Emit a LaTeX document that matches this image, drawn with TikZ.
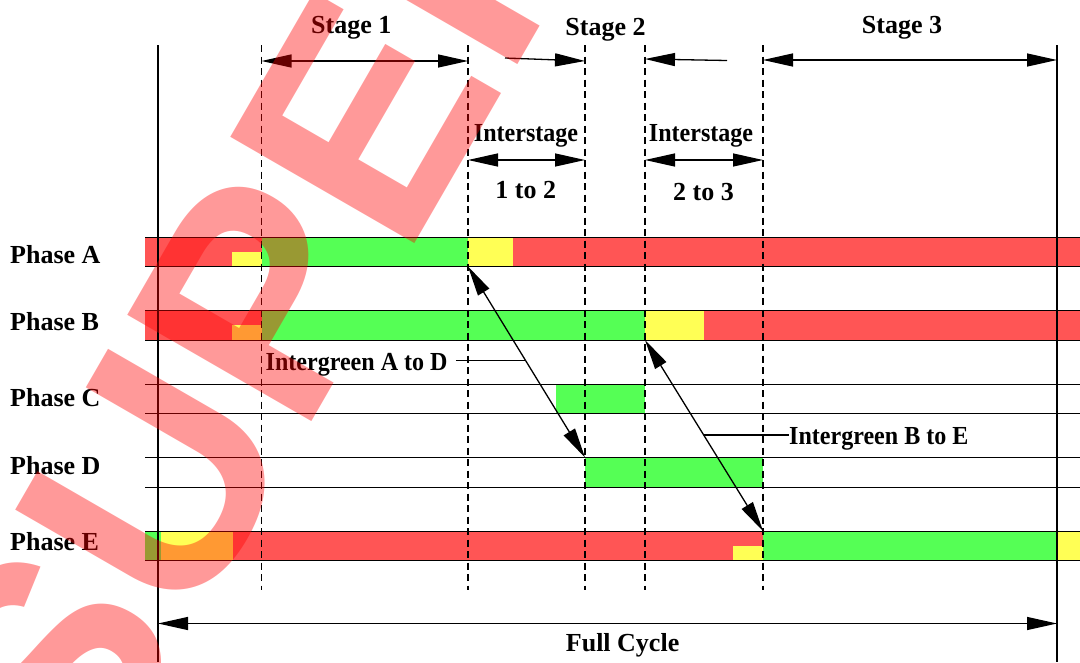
\documentclass[tikz,border=0pt]{standalone}
\usepackage{fontspec}
\usepackage{graphicx}
\setmainfont{Liberation Serif}
\newfontfamily\wmfont{Liberation Sans}
\usetikzlibrary{arrows.meta}
\definecolor{sred}{HTML}{FF5555}
\definecolor{sgreen}{HTML}{55FF55}
\definecolor{syellow}{HTML}{FFFF55}
\newcommand{\narrow}[1]{\scalebox{0.925}[1]{#1}}
\begin{document}
\begin{tikzpicture}[x=1pt,y=-1pt,
  lbl/.style={font=\fontsize{26}{28}\selectfont\bfseries, inner sep=0pt},
  rowline/.style={line width=1pt, black},
  solidv/.style={line width=1.3pt, black},
  dashv/.style={line width=1.2pt, black, dash pattern=on 7pt off 4.5pt},
  tip/.tip={Triangle[length=30pt,width=13pt]},
  dim/.style={line width=1.3pt, tip-tip},
  halfdim/.style={line width=1.3pt, -tip},
  leader/.style={line width=1.3pt}]
\useasboundingbox (0,0) rectangle (1080,662);
\fill[white] (0,0) rectangle (1080,662);

% ---- Phase A (237..266.5)
\fill[sred] (145,237) rectangle (261.5,266.5);
\fill[syellow] (232,252) rectangle (261.5,266.5);
\fill[sgreen] (261.5,237) rectangle (468,266.5);
\fill[syellow] (468,237) rectangle (513,266.5);
\fill[sred] (513,237) rectangle (1080,266.5);
% ---- Phase B (310.5..340)
\fill[sred] (145,310.5) rectangle (261.5,340);
\fill[syellow] (232,325) rectangle (261.5,340);
\fill[sgreen] (261.5,310.5) rectangle (645,340);
\fill[syellow] (645,310.5) rectangle (704,340);
\fill[sred] (704,310.5) rectangle (1080,340);
% ---- Phase C (384..413.5)
\fill[sgreen] (556,384) rectangle (645,413.5);
% ---- Phase D (457.5..487)
\fill[sgreen] (585,457.5) rectangle (763,487);
% ---- Phase E (531..560.5)
\fill[sgreen] (145,531) rectangle (161,560.5);
\fill[syellow] (161,531) rectangle (233,560.5);
\fill[sred] (233,531) rectangle (763,560.5);
\fill[syellow] (733,546) rectangle (763,560.5);
\fill[sgreen] (763,531) rectangle (1057,560.5);
\fill[syellow] (1057,531) rectangle (1080,560.5);

% row lines
\foreach \y in {237,266.5,310.5,340,384,413.5,457.5,487,531,560.5}
  \draw[rowline] (145,\y) -- (1080,\y);

% vertical lines
\coordinate (Lt) at (158,45);   \coordinate (Lb) at (158,662);
\coordinate (Rt) at (1057,45);  \coordinate (Rb) at (1057,662);
\draw[solidv] (Lt) -- (Lb);
\draw[solidv] (Rt) -- (Rb);
\foreach \n/\x in {d1/261.5,d2/468,d3/585,d4/645,d5/763}{
  \coordinate (\n t) at (\x,45);
  \coordinate (\n b) at (\x,590);
  \draw[dashv] (\n t) -- (\n b);
}

% stage arrows
\coordinate (s1a) at (261.5,61); \coordinate (s1b) at (468,61);
\draw[dim] (s1a) -- (s1b);
\coordinate (s2a) at (505,58); \coordinate (s2b) at (585,61);
\draw[halfdim] (s2a) -- (s2b);
\coordinate (s2c) at (727,60.5); \coordinate (s2d) at (645,59);
\draw[halfdim] (s2c) -- (s2d);
\coordinate (s3a) at (763,60); \coordinate (s3b) at (1057,60);
\draw[dim] (s3a) -- (s3b);
% interstage arrows
\coordinate (i1a) at (468,160); \coordinate (i1b) at (585,160);
\draw[dim] (i1a) -- (i1b);
\coordinate (i2a) at (645,160); \coordinate (i2b) at (763,160);
\draw[dim] (i2a) -- (i2b);
% full cycle
\coordinate (fca) at (158,623.5); \coordinate (fcb) at (1057,623.5);
\draw[dim] (fca) -- (fcb);
% intergreen arrows
\coordinate (ad1) at (468,266.5); \coordinate (ad2) at (585,457.5);
\draw[dim] (ad1) -- (ad2);
\coordinate (be1) at (645,340); \coordinate (be2) at (763,531);
\draw[dim] (be1) -- (be2);

% labels
\node[lbl, anchor=base] (tS1) at (351.3,33.3) {Stage 1};
\node[lbl, anchor=base] (tS2) at (605.5,35) {Stage 2};
\node[lbl, anchor=base] (tS3) at (902,33.3) {Stage 3};
\node[lbl, anchor=base] (tI1) at (526,141.7) {\narrow{Interstage}};
\node[lbl, anchor=base] (tI1b) at (525.8,198.3) {1 to 2};
\node[lbl, anchor=base] (tI2) at (701,141.7) {\narrow{Interstage}};
\node[lbl, anchor=base] (tI2b) at (703.5,200) {2 to 3};
\node[lbl, anchor=base west] (pA) at (10,263.3) {Phase A};
\node[lbl, anchor=base west] (pB) at (10,330.7) {Phase B};
\node[lbl, anchor=base west] (pC) at (10,406.7) {Phase C};
\node[lbl, anchor=base west] (pD) at (10,474) {Phase D};
\node[lbl, anchor=base west] (pE) at (10,550) {Phase E};
\node[lbl, anchor=base west] (igAD) at (265.5,370) {\narrow{Intergreen A to D}};
\node[lbl, anchor=base west] (igBE) at (789,444) {\narrow{Intergreen B to E}};
\node[lbl, anchor=base] (tFC) at (622.6,651.7) {Full Cycle};

% leader lines
\coordinate (lad) at (526,360.5);
\draw[leader] (igAD.east |- lad) ++(8,0) -- (lad);
\coordinate (lbe) at (704,435);
\draw[leader] (lbe) -- (igBE.west |- lbe);

% watermark
\begin{scope}[shift={(87,811.6)}]
\node[rotate=60, anchor=base west, inner sep=0pt, text=red, text opacity=0.4,
  font=\wmfont\bfseries\fontsize{309}{309}\selectfont] (wm) at (0,0) {SUPERSEDED};
\end{scope}
\end{tikzpicture}
\end{document}
